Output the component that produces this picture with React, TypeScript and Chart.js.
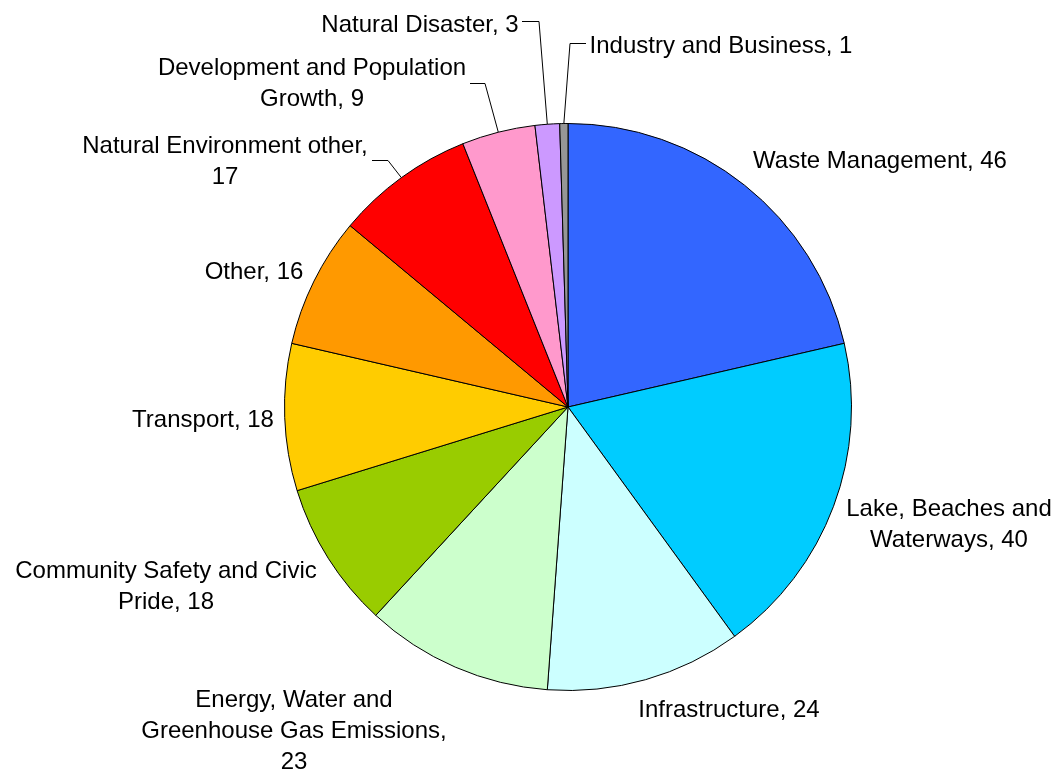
import React, { useEffect, useRef } from "react";
import { Chart, registerables } from "chart.js";

Chart.register(...registerables);

const categories = [
  "Waste Management",
  "Lake, Beaches and Waterways",
  "Infrastructure",
  "Energy, Water and Greenhouse Gas Emissions",
  "Community Safety and Civic Pride",
  "Transport",
  "Other",
  "Natural Environment other",
  "Development and Population Growth",
  "Natural Disaster",
  "Industry and Business",
];
const values = [46, 40, 24, 23, 18, 18, 16, 17, 9, 3, 1];
const colors = [
  "#3366FF",
  "#00CCFF",
  "#CCFFFF",
  "#CCFFCC",
  "#99CC00",
  "#FFCC00",
  "#FF9900",
  "#FF0000",
  "#FF99CC",
  "#CC99FF",
  "#969696",
];

// words per label line (layout only)
const wordsPerLine: (number[] | null)[] = [
  null,
  [3, 2],
  null,
  [3, 3, 1],
  [4, 2],
  null,
  null,
  [3, 1],
  [3, 2],
  null,
  null,
];

// label text centre x and first baseline y (layout only)
const labelPos: [number, number][] = [
  [880, 168],
  [949, 516],
  [729, 717],
  [294, 707],
  [166, 578],
  [203, 427],
  [254, 279],
  [225, 153],
  [312, 75],
  [420, 32],
  [721, 53],
];

// leader line start and elbow (layout only); end is on the slice edge
const leaders: ([number, number, number, number] | null)[] = [
  null,
  null,
  null,
  null,
  null,
  null,
  null,
  [372, 160, 388, 160],
  [470, 83, 485, 83],
  [522, 21, 539, 21],
  [586, 43, 570, 43],
];

const LINE_H = 31;
const FONT = '24px "Liberation Sans", Arial, sans-serif';

function buildLines(i: number): string[] {
  const full = `${categories[i]}, ${values[i]}`;
  const spec = wordsPerLine[i];
  if (!spec) return [full];
  const words = full.split(" ");
  const out: string[] = [];
  let k = 0;
  for (const n of spec) {
    out.push(words.slice(k, k + n).join(" "));
    k += n;
  }
  return out;
}

const labelPlugin = {
  id: "pieLabels",
  afterDraw(chart: any) {
    const ctx = chart.ctx as CanvasRenderingContext2D;
    const meta = chart.getDatasetMeta(0);
    ctx.save();
    ctx.font = FONT;
    ctx.fillStyle = "#000";
    ctx.textAlign = "center";
    ctx.textBaseline = "alphabetic";
    categories.forEach((_, i) => {
      const lines = buildLines(i);
      const [cx, by] = labelPos[i];
      lines.forEach((ln, j) => ctx.fillText(ln, cx, by + j * LINE_H));
      const ld = leaders[i];
      if (ld) {
        const arc = meta.data[i];
        const p = arc.getProps(["x", "y", "startAngle", "endAngle", "outerRadius"], true);
        const mid = (p.startAngle + p.endAngle) / 2;
        const ex = p.x + Math.cos(mid) * p.outerRadius;
        const ey = p.y + Math.sin(mid) * p.outerRadius;
        ctx.beginPath();
        ctx.strokeStyle = "#000";
        ctx.lineWidth = 1;
        ctx.moveTo(ld[0], ld[1] + 0.5);
        ctx.lineTo(ld[2], ld[3] + 0.5);
        ctx.lineTo(ex, ey);
        ctx.stroke();
      }
    });
    ctx.restore();
  },
};

export default function App() {
  const ref = useRef<HTMLCanvasElement | null>(null);
  useEffect(() => {
    if (!ref.current) return;
    const chart = new Chart(ref.current, {
      type: "pie",
      data: {
        labels: categories,
        datasets: [
          {
            data: values,
            backgroundColor: colors,
            borderColor: "#000000",
            borderWidth: 1,
          },
        ],
      },
      options: {
        animation: false,
        responsive: true,
        maintainAspectRatio: false,
        layout: { padding: { left: 284, right: 204, top: 123, bottom: 81 } },
        plugins: {
          legend: { display: false },
          tooltip: { enabled: false },
        },
      },
      plugins: [labelPlugin],
    });
    return () => chart.destroy();
  }, []);
  return (
    <div style={{ position: "fixed", left: 0, top: 0, width: 1056, height: 772, background: "#fff" }}>
      <canvas ref={ref} />
    </div>
  );
}
